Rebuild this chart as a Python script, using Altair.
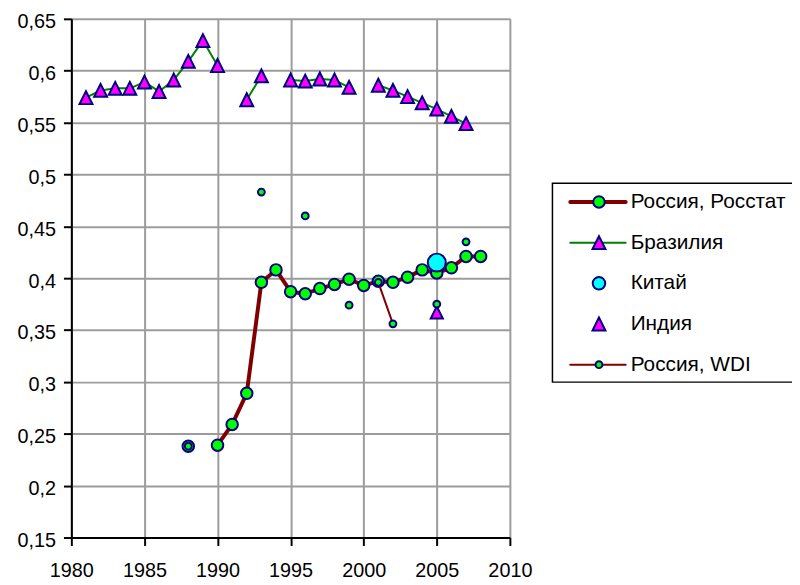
import altair as alt
import pandas as pd

# ---- data ----
brazil_years = [1981, 1982, 1983, 1984, 1985, 1986, 1987, 1988, 1989, 1990,
                1992, 1993,
                1995, 1996, 1997, 1998, 1999,
                2001, 2002, 2003, 2004, 2005, 2006, 2007]
brazil_values = [0.574, 0.581, 0.583, 0.583, 0.589, 0.580, 0.591, 0.609, 0.629, 0.605,
                 0.572, 0.595,
                 0.591, 0.590, 0.592, 0.591, 0.584,
                 0.586, 0.581, 0.575, 0.569, 0.563, 0.556, 0.549]

rosstat_years = [1988, 1990, 1991, 1992, 1993, 1994, 1995, 1996, 1997, 1998,
                 1999, 2000, 2001, 2002, 2003, 2004, 2005, 2006, 2007, 2008]
rosstat_values = [0.238, 0.239, 0.259, 0.289, 0.396, 0.408, 0.387, 0.385, 0.390, 0.394,
                  0.399, 0.393, 0.397, 0.396, 0.401, 0.408, 0.405, 0.410, 0.421, 0.421]

wdi_years = [1988, 1993, 1996, 1999, 2001, 2002, 2005, 2007]
wdi_values = [0.238, 0.483, 0.460, 0.374, 0.396, 0.356, 0.375, 0.435]

china_years = [2005]
china_values = [0.415]

india_years = [2005]
india_values = [0.367]

legend_labels = ["Россия, Росстат", "Бразилия", "Китай", "Индия", "Россия, WDI"]

x_ticks = [1980, 1985, 1990, 1995, 2000, 2005, 2010]
y_ticks = [0.15, 0.2, 0.25, 0.3, 0.35, 0.4, 0.45, 0.5, 0.55, 0.6, 0.65]


def frame(years, values):
    df = pd.DataFrame({"year": years, "value": values})
    df["seg"] = (df["year"].diff().fillna(1) > 1).cumsum()
    return df


df_brazil = frame(brazil_years, brazil_values)
df_rosstat = frame(rosstat_years, rosstat_values)
df_wdi = frame(wdi_years, wdi_values)
df_china = frame(china_years, china_values)
df_india = frame(india_years, india_values)
df_legend = pd.DataFrame({"label": legend_labels, "order": list(range(len(legend_labels)))})

FONT = "Liberation Sans"
NAVY = "#000080"
LIME = "#00FF00"
MAGENTA = "#FF00FF"
DARKRED = "#800000"
GREEN = "#008000"
TRI = "M0,-1L-1,1L1,1Z"

X = alt.X("year:Q",
          scale=alt.Scale(domain=[1980, 2010], nice=False, zero=False),
          axis=alt.Axis(values=x_ticks, format="d", title=None, labelPadding=15,
                        labelFlush=False, labelOverlap=False))
Y = alt.Y("value:Q",
          scale=alt.Scale(domain=[0.15, 0.65], nice=False, zero=False),
          axis=alt.Axis(values=y_ticks, title=None, labelPadding=8, labelOverlap=False,
                        labelOffset=3,
                        labelExpr="replace(format(datum.value, '.2~f'), '.', ',')"))


def pts(df, size, fill, shape="circle"):
    return alt.Chart(df).mark_point(shape=shape, filled=True, fill=fill, stroke=NAVY,
                                    strokeWidth=2, size=size, opacity=1,
                                    fillOpacity=1).encode(x=X, y=Y)


def line(df, color, width):
    return alt.Chart(df).mark_line(color=color, strokeWidth=width, strokeCap="round",
                                   strokeJoin="round").encode(x=X, y=Y, detail="seg:N")


layers = [
    line(df_rosstat, DARKRED, 4),
    pts(df_rosstat, 135, LIME),
    line(df_brazil, GREEN, 2),
    pts(df_brazil, 170, MAGENTA, TRI),
    pts(df_china, 330, "#00FFFF"),
    pts(df_india, 150, MAGENTA, TRI),
    line(df_wdi, DARKRED, 2),
    pts(df_wdi, 48, LIME),
]

# ---- legend drawn next to the plot ----
LY = alt.Y("ly:Q", scale=None)


def leg(name):
    return alt.Chart(df_legend).transform_filter(
        alt.datum.label == name
    ).transform_calculate(ly="185 + 41.1 * datum.order")


box = alt.Chart(df_legend).transform_filter(alt.datum.order == 0).mark_rect(
    fill="white", stroke="black", strokeWidth=1.5
).encode(x=alt.value(486), x2=alt.value(745), y=alt.value(166), y2=alt.value(367))

legend_layers = [box]
for name, lc, lw in [(legend_labels[0], DARKRED, 4), (legend_labels[1], GREEN, 2),
                     (legend_labels[4], DARKRED, 2)]:
    legend_layers.append(leg(name).mark_rule(color=lc, strokeWidth=lw, strokeCap="round").encode(
        x=alt.value(504), x2=alt.value(560), y=LY))

for name, size, fill, shape in [(legend_labels[0], 135, LIME, "circle"),
                                (legend_labels[1], 170, MAGENTA, TRI),
                                (legend_labels[2], 160, "#00FFFF", "circle"),
                                (legend_labels[3], 170, MAGENTA, TRI),
                                (legend_labels[4], 48, LIME, "circle")]:
    legend_layers.append(leg(name).mark_point(shape=shape, filled=True, fill=fill, stroke=NAVY,
                                              strokeWidth=2, size=size, opacity=1,
                                              fillOpacity=1).encode(x=alt.value(533), y=LY))

legend_layers.append(
    alt.Chart(df_legend).transform_calculate(ly="185 + 41.1 * datum.order").mark_text(
        align="left", baseline="middle", font=FONT, fontSize=21, color="black"
    ).encode(x=alt.value(565), y=LY, text="label:N")
)

chart = alt.layer(*layers, *legend_layers).properties(
    width=443, height=524,
    autosize=alt.AutoSizeParams(type="none"),
    padding={"left": 64, "top": 8, "right": 285, "bottom": 44},
    background="white",
).configure_axis(
    labelFont=FONT, labelFontSize=20, labelColor="black",
    domainColor="black", domainWidth=2,
    tickColor="black", tickWidth=2, tickSize=8,
    grid=True, gridColor="#9c9c9c", gridWidth=2,
).configure_view(strokeWidth=0)

chart.save("out.html", embed_options={"renderer": "svg", "actions": False})
